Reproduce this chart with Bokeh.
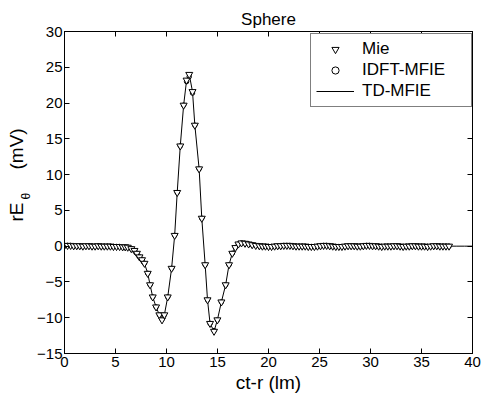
import math
from bokeh.plotting import figure
from bokeh.layouts import row
from bokeh.models import Range1d, FixedTicker, LinearAxis, Label, Legend, LegendItem
from bokeh.embed import file_html
from bokeh.resources import INLINE

FONT = "Liberation Sans"

# sample positions ct-r (m) and field values rE_theta (mV)
base_left_ct = [0.0, 0.3, 0.6, 0.9, 1.2, 1.5, 1.8, 2.1, 2.4, 2.7, 3.0, 3.3, 3.6, 3.9, 4.2,
                4.5, 4.8, 5.1, 5.4, 5.7, 5.95]
base_left = [0.1, 0.1, 0.1, 0.05, 0.05, 0.05, 0.0, 0.05, 0.05, 0.0, 0.0, 0.05, 0.0, 0.0, 0.0,
             0.0, -0.05, -0.05, -0.05, -0.1, -0.1]

pulse_ct = [6.2, 6.55, 6.86, 7.1, 7.35, 7.6, 7.84, 8.16, 8.39, 8.65, 8.98, 9.3, 9.56, 9.79,
            10.12, 10.5, 10.8, 11.05, 11.35, 11.68, 11.97, 12.23, 12.55, 12.78, 13.2, 13.46,
            13.79, 14.02, 14.27, 14.66, 14.99, 15.38, 15.8, 16.13, 16.45, 16.75, 17.05, 17.35,
            17.7, 18.05, 18.4, 18.75]
pulse_mie = [-0.15, -0.35, -0.6, -1.0, -1.5, -1.9, -2.4, -3.8, -5.4, -7.1, -8.5, -9.6, -10.3, -9.6,
             -7.1, -3.1, 1.5, 7.5, 14.0, 19.7, 23.2, 24.0, 21.6, 16.9, 10.8, 3.9,
             -2.6, -7.5, -10.8, -11.9, -10.3, -7.8, -5.4, -2.6, -1.0, -0.2, 0.3, 0.45,
             0.4, 0.3, 0.2, 0.1]
pulse_idft = [-0.15, -0.35, -0.6, -1.0, -1.5, -1.9, -2.4, -3.8, -5.4, -7.1, -8.5, -9.6, -10.2, -9.6,
              -7.1, -3.1, 1.5, 7.5, 14.0, 19.7, 23.0, 23.7, 21.4, 16.9, 10.8, 3.9,
              -2.6, -7.5, -10.8, -11.8, -10.3, -7.8, -5.4, -2.6, -1.0, -0.2, 0.3, 0.45,
              0.4, 0.3, 0.2, 0.1]

base_right_ct = [19.1, 19.4, 19.7, 20.0, 20.3, 20.6, 20.9, 21.2, 21.5, 21.8, 22.1, 22.4, 22.7,
                 23.0, 23.3, 23.6, 23.9, 24.2, 24.5, 24.8, 25.1, 25.4, 25.7, 26.0, 26.3, 26.6,
                 26.9, 27.2, 27.5, 27.8, 28.1, 28.4, 28.7, 29.0, 29.3, 29.6, 29.9, 30.2, 30.5,
                 30.8, 31.1, 31.4, 31.7, 32.0, 32.3, 32.6, 32.9, 33.2, 33.5, 33.8, 34.1, 34.4,
                 34.7, 35.0, 35.3, 35.6, 35.9, 36.2, 36.5, 36.8, 37.1, 37.4, 37.7]
base_right = [0.05, 0.0, 0.0, -0.05, -0.05, 0.0, 0.05, 0.05, 0.1, 0.1, 0.1, 0.05, 0.0,
              0.0, 0.0, 0.0, -0.05, -0.05, -0.05, 0.0, 0.05, 0.1, 0.1, 0.05, 0.0, -0.05,
              -0.05, -0.05, 0.0, 0.05, 0.05, 0.05, 0.0, 0.0, 0.05, 0.1, 0.1, 0.05, 0.05,
              0.0, -0.05, 0.0, 0.0, 0.0, 0.05, 0.05, 0.0, -0.05, 0.0, 0.0, 0.05, 0.05,
              0.0, 0.0, 0.0, -0.05, 0.0, 0.05, 0.05, 0.0, 0.0, 0.0, 0.0]

td_tail_ct = [38.4, 39.2, 40.0]
td_tail = [0.0, 0.0, 0.0]

ct = base_left_ct + pulse_ct + base_right_ct
mie = base_left + pulse_mie + base_right
idft = base_left + pulse_idft + base_right
td_ct = ct + td_tail_ct
td = mie + td_tail

x_ticks = [0, 5, 10, 15, 20, 25, 30, 35, 40]
y_ticks = [-15, -10, -5, 0, 5, 10, 15, 20, 25, 30]

TOP, BOTTOM = 31, 47
LEFT_W = 34          # width of the left strip holding the y axis title
MAIN_W = 482 - LEFT_W
H = 400

p = figure(width=MAIN_W, height=H, output_backend="svg", toolbar_location=None,
           x_range=Range1d(0, 40), y_range=Range1d(-15, 30),
           min_border_left=29, min_border_right=10, min_border_top=TOP, min_border_bottom=BOTTOM,
           title="Sphere")
p.background_fill_color = "white"
p.border_fill_color = "white"
p.title.align = "center"
p.title.text_font = FONT
p.title.text_font_size = "17px"
p.title.text_font_style = "normal"
p.title.text_color = "black"
p.title.standoff = 6
p.xgrid.visible = False
p.ygrid.visible = False
p.outline_line_color = "black"
p.outline_line_alpha = 1
p.outline_line_width = 1

for ax, ticks in ((p.xaxis[0], x_ticks), (p.yaxis[0], y_ticks)):
    ax.ticker = FixedTicker(ticks=ticks)
    ax.major_tick_in = 5
    ax.major_tick_out = 0
    ax.minor_tick_in = 0
    ax.minor_tick_out = 0
    ax.axis_line_color = "black"
    ax.major_tick_line_color = "black"
    ax.major_label_text_font = FONT
    ax.major_label_text_font_size = "15px"
    ax.major_label_text_color = "black"
    ax.major_label_standoff = 3
p.yaxis.major_label_standoff = 2

p.xaxis.axis_label = "ct-r (lm)"
p.xaxis.axis_label_text_font = FONT
p.xaxis.axis_label_text_font_size = "19px"
p.xaxis.axis_label_text_font_style = "normal"
p.xaxis.axis_label_text_color = "black"
p.xaxis.axis_label_standoff = 2

# box ticks on top and right
top = LinearAxis(ticker=FixedTicker(ticks=x_ticks), major_tick_in=5, major_tick_out=0,
                 minor_tick_in=0, minor_tick_out=0, major_label_standoff=0,
                 major_label_text_color=None, axis_line_color="black")
right = LinearAxis(ticker=FixedTicker(ticks=y_ticks), major_tick_in=5, major_tick_out=0,
                   minor_tick_in=0, minor_tick_out=0, major_label_standoff=0,
                   major_label_text_color=None, axis_line_color="black")
p.add_layout(top, "above")
p.add_layout(right, "right")

r_td = p.line(td_ct, td, line_color="black", line_width=1)
r_idft = p.scatter(ct, idft, marker="circle", size=4.5, line_color="black",
                   fill_color="white", line_width=1)
r_mie = p.scatter(ct, mie, marker="inverted_triangle", size=7, line_color="black",
                  fill_color="white", line_width=1)

legend = Legend(items=[LegendItem(label="Mie", renderers=[r_mie]),
                       LegendItem(label="IDFT-MFIE", renderers=[r_idft]),
                       LegendItem(label="TD-MFIE", renderers=[r_td])],
                location=(246, 246))
legend.label_text_font = FONT
legend.label_text_font_size = "17px"
legend.label_text_color = "black"
legend.border_line_color = "black"
legend.border_line_width = 1
legend.background_fill_color = "white"
legend.background_fill_alpha = 1
legend.padding = 5
legend.spacing = 1
legend.glyph_width = 38
legend.glyph_height = 18
legend.label_height = 18
legend.label_width = 104
legend.label_standoff = 8
legend.margin = 0
p.add_layout(legend)

# left strip: the y axis title (rE with subscript theta)
q = figure(width=LEFT_W, height=H, output_backend="svg", toolbar_location=None,
           x_range=Range1d(0, LEFT_W), y_range=Range1d(-15, 30),
           x_axis_location=None, y_axis_location=None,
           min_border_left=0, min_border_right=0, min_border_top=TOP, min_border_bottom=BOTTOM)
q.xgrid.visible = False
q.ygrid.visible = False
q.outline_line_color = None
q.background_fill_color = "white"
q.border_fill_color = "white"

lbl_kw = dict(angle=math.pi / 2, angle_units="rad", text_align="left",
              text_baseline="alphabetic", text_font=FONT, text_color="black",
              x_units="screen", y_units="screen")
q.add_layout(Label(x=16, y=132, text="rE", text_font_size="19px", **lbl_kw))
q.add_layout(Label(x=25, y=154, text="\u03b8", text_font_size="12px", **lbl_kw))
q.add_layout(Label(x=16, y=184, text="(mV)", text_font_size="19px", **lbl_kw))

layout = row(q, p, spacing=0)
open("out.html", "w").write(file_html(layout, INLINE))
